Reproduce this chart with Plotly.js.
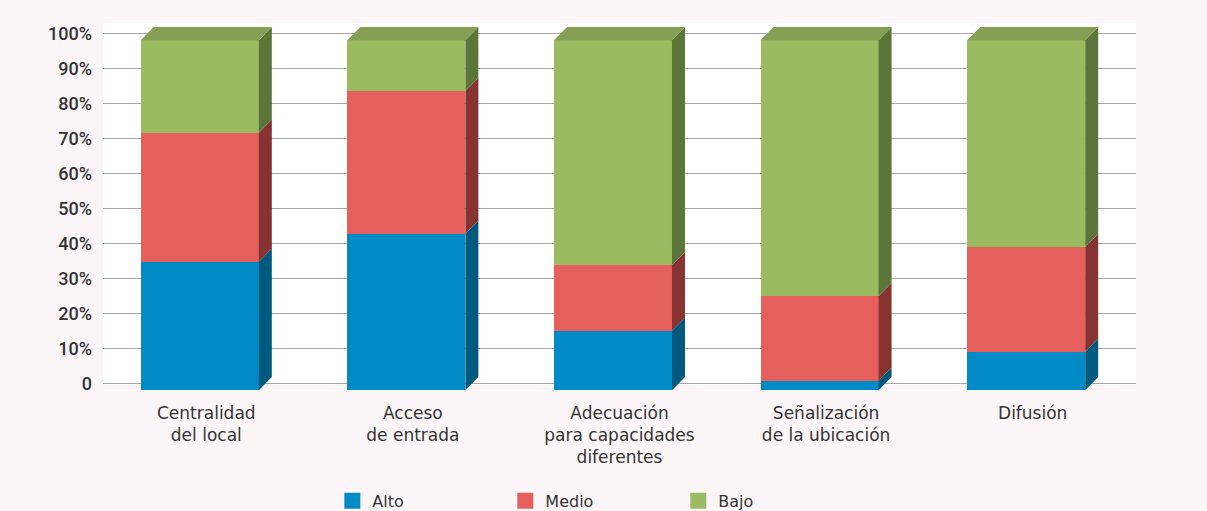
<!DOCTYPE html>
<html>
<head>
<meta charset="utf-8">
<script src="https://cdn.plot.ly/plotly-3.0.1.min.js"></script>
<style>html,body{margin:0;padding:0;background:#fcf6f8;}#chart{width:1207px;height:511px;}</style>
</head>
<body>
<div id="chart"></div>
<script>
// ---- data ----
const categories = ['Centralidad<br>del local', 'Acceso<br>de entrada', 'Adecuación<br>para capacidades<br>diferentes', 'Señalización<br>de la ubicación', 'Difusión'];
const seriesNames = ['Alto', 'Medio', 'Bajo'];
const alto  = [36.7, 44.7, 17.0, 2.7, 11.0];
const medio = [36.9, 40.8, 18.7, 24.2, 29.9];
const bajo  = [26.4, 14.5, 64.3, 73.1, 59.1];
const yTickVals = [0, 10, 20, 30, 40, 50, 60, 70, 80, 90, 100];
const yTickText = ['0', '10%', '20%', '30%', '40%', '50%', '60%', '70%', '80%', '90%', '100%'];

// ---- styling / geometry ----
const frontColors = ['#008bc6', '#e5605c', '#9bbb61'];
const sideColors  = ['#005a80', '#873331', '#5c7639'];
const topColor = '#85a054';
const barWidth = 0.571;      // in category units
const barOffset = -0.317;    // left edge relative to category center
const depthX = 0.063;        // 3D depth, x units
const depthY = 3.8;          // 3D depth, y units
const yRange = [-2.2, 102.94];
const wallBottom = -0.486;   // lower edge of the white wall
const shift = 2.0;           // front faces drawn slightly below the wall grid
const y2Range = [yRange[0] + shift, yRange[1] + shift];

const xs = categories.map((_, i) => i);
const series = [alto, medio, bajo];

const traces = series.map((vals, k) => ({
  type: 'bar',
  x: xs,
  y: vals,
  yaxis: 'y2',
  name: seriesNames[k],
  width: barWidth,
  offset: barOffset,
  marker: {color: frontColors[k], line: {width: 0}},
  cliponaxis: false,
  showlegend: false,
  hoverinfo: 'skip'
}));

// legend entries
seriesNames.forEach((n, k) => {
  traces.push({
    type: 'scatter', mode: 'markers', x: [null], y: [null], name: n,
    marker: {symbol: 'square', size: 17, color: frontColors[k]},
    showlegend: true, hoverinfo: 'skip'
  });
});

// white back wall
const shapes = [{
  type: 'rect', xref: 'paper', yref: 'y', layer: 'below',
  x0: 0, x1: 1, y0: wallBottom, y1: yRange[1],
  fillcolor: '#ffffff', line: {width: 0}
}];

// 3D side and top faces computed from the data via the y2 scale
xs.forEach(i => {
  const xl = i + barOffset;
  const xr = xl + barWidth;
  let base = 0;
  series.forEach((vals, k) => {
    const top = base + vals[i];
    shapes.push({
      type: 'path', xref: 'x', yref: 'y2', layer: 'above',
      path: `M${xr},${base} L${xr},${top} L${xr + depthX},${top + depthY} L${xr + depthX},${base + depthY} Z`,
      fillcolor: sideColors[k], line: {width: 0}
    });
    base = top;
  });
  shapes.push({
    type: 'path', xref: 'x', yref: 'y2', layer: 'above',
    path: `M${xl},${base} L${xr},${base} L${xr + depthX},${base + depthY} L${xl + depthX},${base + depthY} Z`,
    fillcolor: topColor, line: {width: 0}
  });
});

const layout = {
  width: 1207, height: 511,
  margin: {l: 103, r: 71, t: 23, b: 120, pad: 0, autoexpand: false},
  paper_bgcolor: '#fcf6f8',
  plot_bgcolor: '#fcf6f8',
  barmode: 'stack',
  showlegend: true,
  font: {family: 'DejaVu Sans', color: '#333333'},
  xaxis: {
    range: [-0.5, 4.5], tickvals: xs, ticktext: categories,
    showgrid: false, zeroline: false, showline: false, ticks: '',
    tickfont: {family: 'DejaVu Sans', size: 17, color: '#333333'},
    ticklabelstandoff: 10,
    automargin: false, fixedrange: true
  },
  yaxis: {
    range: yRange, tickvals: yTickVals, ticktext: yTickText,
    showgrid: true, gridcolor: '#a8a8a8', gridwidth: 1.5, zeroline: false, showline: false, ticks: '',
    tickfont: {family: 'Roboto', size: 18, color: '#333333', weight: 500},
    ticklabelstandoff: 10,
    automargin: false, fixedrange: true
  },
  yaxis2: {
    range: y2Range, overlaying: 'y', side: 'left', visible: false, fixedrange: true
  },
  legend: {
    orientation: 'h', traceorder: 'normal',
    x: 0.222, xanchor: 'left', y: -0.252, yanchor: 'top',
    entrywidth: 128, entrywidthmode: 'pixels',
    font: {family: 'DejaVu Sans', size: 16, color: '#333333'},
    bgcolor: 'rgba(0,0,0,0)'
  },
  shapes: shapes
};

Plotly.newPlot('chart', traces, layout, {displayModeBar: false, staticPlot: true});
</script>
</body>
</html>
